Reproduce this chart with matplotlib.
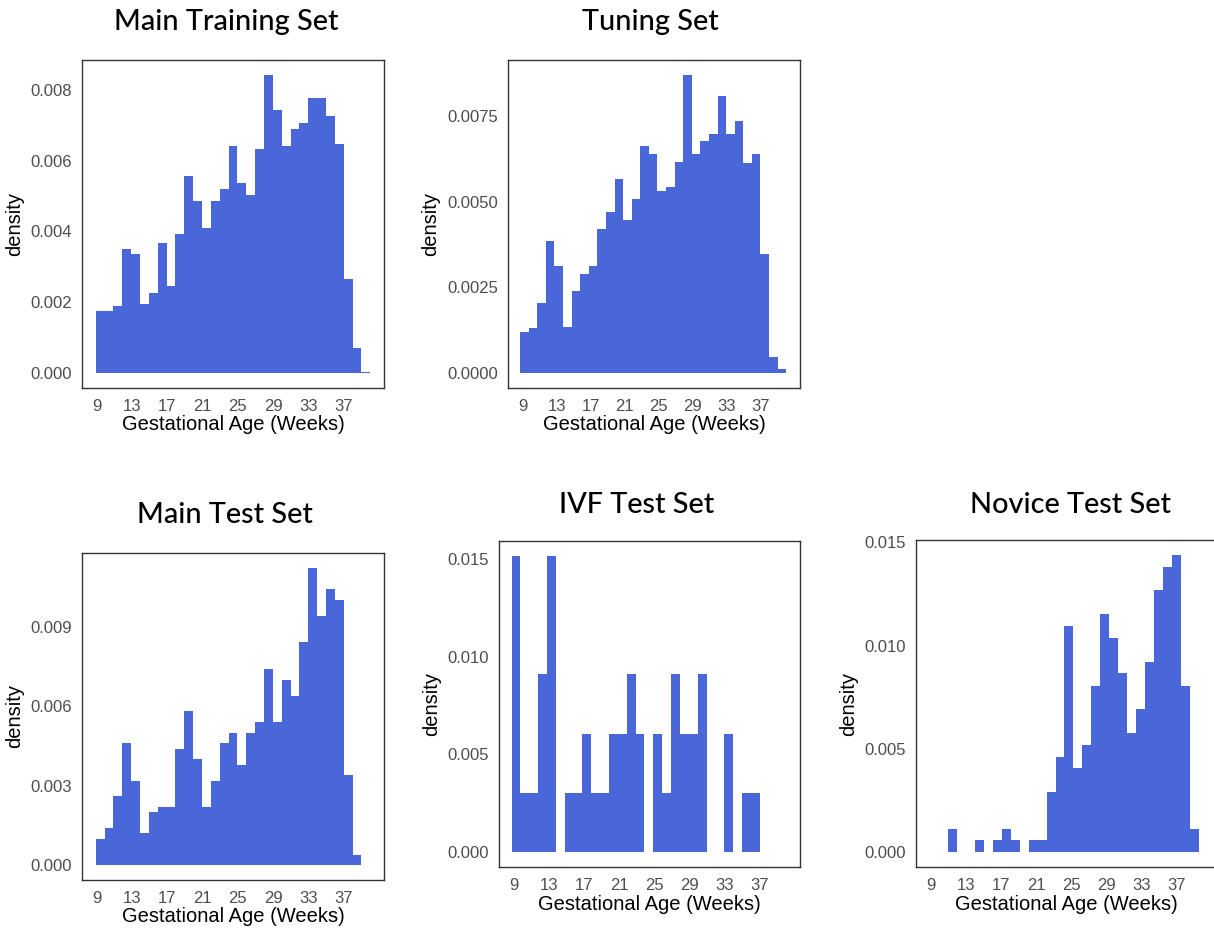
import numpy as np
import matplotlib
matplotlib.use("Agg")
import matplotlib.pyplot as plt

# histogram densities per bin (bins ~1 week wide)
train_density = [0.00174, 0.00175, 0.00190, 0.00351, 0.00335, 0.00196, 0.00226, 0.00366,
                 0.00245, 0.00392, 0.00556, 0.00486, 0.00410, 0.00486, 0.00519, 0.00642,
                 0.00538, 0.00502, 0.00634, 0.00842, 0.00742, 0.00642, 0.00688, 0.00706,
                 0.00776, 0.00778, 0.00725, 0.00648, 0.00267, 0.00070, 0.00003]
tuning_density = [0.00119, 0.00132, 0.00203, 0.00386, 0.00312, 0.00133, 0.00240, 0.00288,
                  0.00313, 0.00421, 0.00469, 0.00567, 0.00447, 0.00506, 0.00661, 0.00639,
                  0.00531, 0.00542, 0.00614, 0.00869, 0.00638, 0.00676, 0.00698, 0.00807,
                  0.00697, 0.00736, 0.00613, 0.00639, 0.00347, 0.00048, 0.00011]
test_density = [0.00100, 0.00139, 0.00261, 0.00461, 0.00319, 0.00121, 0.00199, 0.00218,
                0.00218, 0.00440, 0.00581, 0.00401, 0.00218, 0.00319, 0.00461, 0.00500,
                0.00379, 0.00500, 0.00541, 0.00742, 0.00541, 0.00701, 0.00640, 0.00843,
                0.01123, 0.00940, 0.01044, 0.01003, 0.00340, 0.00038]
ivf_density = [0.01515, 0.00303, 0.00303, 0.00909, 0.01515, 0.0, 0.00303, 0.00303,
               0.00606, 0.00303, 0.00303, 0.00606, 0.00606, 0.00909, 0.00606, 0.0,
               0.00606, 0.00303, 0.00909, 0.00606, 0.00606, 0.00909, 0.0, 0.0,
               0.00606, 0.0, 0.00303, 0.00303]
novice_density = [0.0, 0.0, 0.00113, 0.0, 0.0, 0.00057, 0.0, 0.00057, 0.00113, 0.00057,
                  0.0, 0.00057, 0.00057, 0.00289, 0.00460, 0.01096, 0.00407, 0.00518,
                  0.00806, 0.01153, 0.01035, 0.00865, 0.00575, 0.00691, 0.00922, 0.01271,
                  0.01381, 0.01439, 0.00806, 0.00113]

titles = ["Main Training Set", "Tuning Set", "Main Test Set", "IVF Test Set", "Novice Test Set"]
series = [train_density, tuning_density, test_density, ivf_density, novice_density]
bin_start = [8.85, 8.73, 8.85, 8.73, 8.92]
bin_width = [1.006, 1.008, 1.006, 1.01, 1.02]
y_ticks = [[0, 0.002, 0.004, 0.006, 0.008],
           [0, 0.0025, 0.005, 0.0075],
           [0, 0.003, 0.006, 0.009],
           [0, 0.005, 0.010, 0.015],
           [0, 0.005, 0.010, 0.015]]
y_fmt = ["{:.3f}", "{:.4f}", "{:.3f}", "{:.3f}", "{:.3f}"]
x_ticks = [9, 13, 17, 21, 25, 29, 33, 37]

W, H = 1214, 931
# axes boxes in pixels: left, top, right, bottom
boxes = [(82, 60, 384, 388), (508, 60, 800, 388), (82, 553, 384, 880),
         (499, 541, 800, 867), (916, 540, 1217, 867)]
title_pos = [(226, 22), (650, 22), (225, 515), (637, 505), (1071, 505)]

plt.rcParams["font.family"] = ["Liberation Sans", "DejaVu Sans"]
fig = plt.figure(figsize=(W / 100, H / 100), dpi=100)
color = "#4A67DA"

for i in range(5):
    l, t, r, b = boxes[i]
    ax = fig.add_axes([l / W, 1 - b / H, (r - l) / W, (b - t) / H])
    vals = np.array(series[i])
    edges = bin_start[i] + bin_width[i] * np.arange(len(vals) + 1)
    ax.stairs(vals, edges, fill=True, color=color, baseline=0)
    ymax = vals.max()
    ax.set_ylim(-0.05 * ymax, 1.05 * ymax)
    ax.set_xlim(7.3, 41.6)
    ax.set_xticks(x_ticks)
    ax.set_yticks(y_ticks[i])
    ax.set_yticklabels([y_fmt[i].format(v) for v in y_ticks[i]])
    ax.tick_params(length=0, labelsize=12, labelcolor="#4D4D4D")
    ax.tick_params(axis="x", pad=8)
    ax.tick_params(axis="y", pad=7)
    for s in ax.spines.values():
        s.set_color("#333333")
        s.set_linewidth(1.0)
    ax.set_xlabel("Gestational Age (Weeks)", fontsize=14.5, labelpad=1)
    ax.set_ylabel("density", fontsize=14.5, labelpad=5)
    tx, ty = title_pos[i]
    fig.text(tx / W, 1 - ty / H, titles[i], ha="center", va="center",
             fontsize=20.8, fontfamily="Lato", fontweight="medium")

fig.savefig("out.png", dpi=100)
